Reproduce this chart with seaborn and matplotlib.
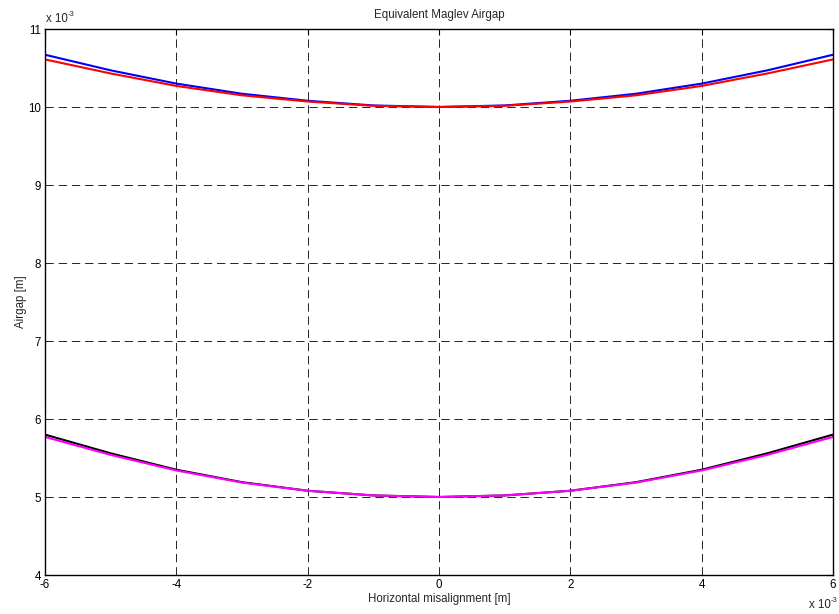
import matplotlib
matplotlib.use("Agg")
import matplotlib.pyplot as plt
import seaborn as sns
import pandas as pd
import numpy as np

# Data (x in 1e-3 m scale, y in 1e-3 m scale)
x_vals = [-6, -5, -4, -3, -2, -1, 0, 1, 2, 3, 4, 5, 6]
blue_vals = [10.67, 10.47, 10.30, 10.17, 10.08, 10.02, 10.00, 10.02, 10.08, 10.17, 10.30, 10.47, 10.67]
red_vals = [10.61, 10.43, 10.27, 10.15, 10.07, 10.015, 10.00, 10.015, 10.07, 10.15, 10.27, 10.43, 10.61]
black_vals = [5.80, 5.56, 5.35, 5.19, 5.08, 5.02, 5.00, 5.02, 5.08, 5.19, 5.35, 5.56, 5.80]
magenta_vals = [5.77, 5.54, 5.34, 5.185, 5.08, 5.02, 5.00, 5.02, 5.08, 5.185, 5.34, 5.54, 5.77]

series_names = ["blue", "red", "black", "magenta"]
series_colors = ["#0000ff", "#ff0000", "#000000", "#ff00ff"]

x_ticks = [-6, -4, -2, 0, 2, 4, 6]
y_ticks = [4, 5, 6, 7, 8, 9, 10, 11]

rows = []
for name, vals in zip(series_names, [blue_vals, red_vals, black_vals, magenta_vals]):
    for xv, yv in zip(x_vals, vals):
        rows.append({"x": xv, "y": yv, "series": name})
df = pd.DataFrame(rows)

sns.set_theme(style="white")
plt.rcParams['font.family'] = ['Liberation Sans', 'DejaVu Sans']
plt.rcParams['lines.scale_dashes'] = False

FS = 8.3

fig = plt.figure(figsize=(8.39, 6.14), dpi=100)
ax = fig.add_axes([45/839, 1 - 575/614, (833-45)/839, (575-29)/614])

sns.lineplot(data=df, x="x", y="y", hue="series", palette=dict(zip(series_names, series_colors)),
             hue_order=series_names, linewidth=1.5, legend=False, ax=ax, sort=True)

ax.set_xlim(-6, 6)
ax.set_ylim(4, 11)
ax.set_xticks(x_ticks)
ax.set_yticks(y_ticks)
ax.set_xticklabels([str(t) for t in x_ticks])
ax.set_yticklabels([str(t) for t in y_ticks])
ax.grid(True, color="black", linestyle=(0, (6, 3.5)), linewidth=0.6)
ax.set_axisbelow(True)
for s in ax.spines.values():
    s.set_visible(True)
    s.set_color("black")
    s.set_linewidth(1.0)
ax.tick_params(direction="in", top=True, right=True, length=4, width=0.8,
               labelsize=FS, colors="black")
ax.tick_params(axis="y", pad=3)
ax.tick_params(axis="x", pad=3)
ax.set_xlabel("Horizontal misalignment [m]", fontsize=FS, labelpad=1)
ax.set_ylabel("Airgap [m]", fontsize=FS, labelpad=1)
ax.set_title("Equivalent Maglev Airgap", fontsize=FS, pad=8)

# MATLAB-style exponent labels
fig.text(46/839, 1 - 19/614, "x 10", fontsize=FS, va="center", ha="left")
fig.text(68/839, 1 - 14/614, "-3", fontsize=5.5, va="center", ha="left")
fig.text(809/839, 1 - 605/614, "x 10", fontsize=FS, va="center", ha="left")
fig.text(831/839, 1 - 600/614, "-3", fontsize=5.5, va="center", ha="left")

fig.savefig("out.png", dpi=100, facecolor="white")
